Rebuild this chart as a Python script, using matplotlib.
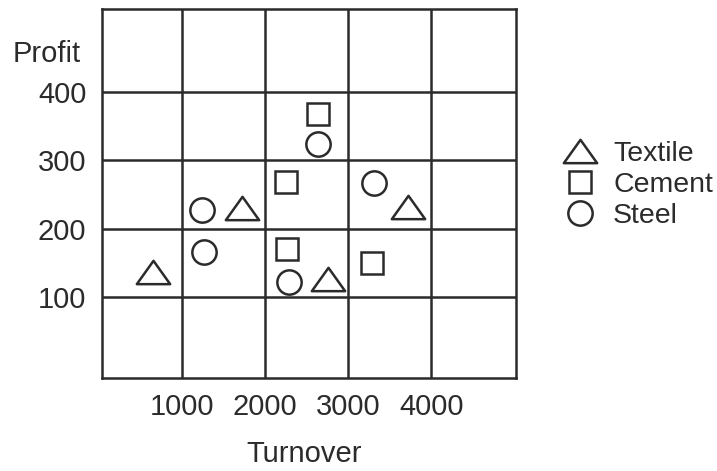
import matplotlib.pyplot as plt
from matplotlib.path import Path

# values
textile_x = [650, 1720, 2760, 3720]
textile_y = [137, 230, 127, 232]
cement_x = [2640, 2250, 2265, 3290]
cement_y = [368, 269, 170, 150]
steel_x = [2640, 1235, 1260, 3310, 2285]
steel_y = [324, 227, 166, 267, 122]

x_ticks = [1000, 2000, 3000, 4000]
y_ticks = [100, 200, 300, 400]

plt.rcParams['font.family'] = ['Liberation Sans', 'DejaVu Sans']
ink = '#2b2b2b'

# flat triangle, wider than tall
tri = Path([(0, 0.7), (-1, -0.7), (1, -0.7), (0, 0.7)],
           [Path.MOVETO, Path.LINETO, Path.LINETO, Path.CLOSEPOLY])

fig = plt.figure(figsize=(7.17, 4.71), dpi=100)
ax = fig.add_axes([0.1418, 0.1975, 0.5774, 0.7834])

style = dict(linestyle='none', markerfacecolor='none', markeredgecolor=ink,
             markeredgewidth=1.8)
ax.plot(textile_x, textile_y, marker=tri, markersize=24, label='Textile', **style)
ax.plot(cement_x, cement_y, marker='s', markersize=16, label='Cement', **style)
ax.plot(steel_x, steel_y, marker='o', markersize=17.5, label='Steel', **style)

ax.set_xlim(29, 5017)
ax.set_ylim(-18, 521)
ax.set_xticks(x_ticks)
ax.set_yticks(y_ticks)
ax.grid(True, color=ink, linewidth=1.8)
ax.set_axisbelow(True)
for s in ax.spines.values():
    s.set_color(ink)
    s.set_linewidth(1.8)
ax.tick_params(length=0, pad=11, labelsize=21, colors=ink)

ax.set_xlabel('Turnover', fontsize=21, color=ink, va='center')
ax.xaxis.set_label_coords(0.49, -0.205)
ax.set_ylabel('Profit', fontsize=21, color=ink, rotation=0, ha='right', va='center')
ax.yaxis.set_label_coords(-0.05, 0.878)

fig.legend(loc='center left', bbox_to_anchor=(0.765, 0.607),
           bbox_transform=fig.transFigure, frameon=False, fontsize=20.5,
           borderpad=0, handlelength=1.2, handletextpad=0.57, labelspacing=0.17,
           labelcolor=ink)

fig.savefig('out.png', dpi=100)
